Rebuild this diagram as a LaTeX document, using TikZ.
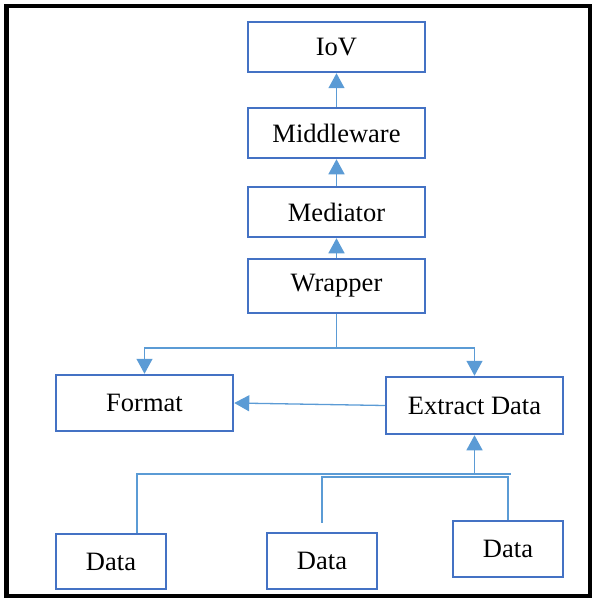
\documentclass[tikz,border=0pt]{standalone}
\usepackage{fontspec}
\setmainfont{Liberation Serif}
\usetikzlibrary{arrows.meta, positioning}
\definecolor{boxblue}{HTML}{4472C4}
\definecolor{linkblue}{HTML}{5B9BD5}

\begin{document}
\begin{tikzpicture}[
    x=1pt, y=-1pt,
    >={Triangle[width=16pt,length=15pt]},
    every node/.style={font=\fontsize{26.5}{30}\selectfont},
    box/.style={draw=boxblue, line width=2.5pt, inner sep=0pt,
                minimum width=177pt, minimum height=50pt},
    databox/.style={box, minimum width=110pt, minimum height=56pt},
    link/.style={draw=linkblue, line width=1.3pt},
]
\useasboundingbox (0,0) rectangle (592,599);
% outer frame
\draw[line width=4.5pt] (6.5,6) rectangle (590,596);
% upper chain
\node[box] (iov) at (336.5,47) {IoV};
\node[box] (middleware) at (336.5,133) {Middleware};
\node[box] (mediator) at (336.5,212) {Mediator};
\node[box, minimum height=54pt] (wrapper) at (336.5,286) {Wrapper};
\draw[link, ->] (middleware) -- (iov);
\draw[link, ->] (mediator) -- (middleware);
\draw[link, ->] (wrapper) -- (mediator);
% middle row
\node[box, minimum height=56pt] (format) at (144.5,403) {Format};
\node[box, minimum height=57pt] (extract) at (474.5,405.5) {Extract Data};
\coordinate (fork) at (336.5,348);
\draw[link] (wrapper) -- (fork);
\draw[link, ->] (fork) -| (format);
\draw[link, ->] (fork) -| (extract);
\draw[link, ->] (extract.west) -- (format.east);
% data sources
\node[databox, minimum height=55pt] (data1) at (111,561.5) {Data};
\node[databox] (data2) at (322,561) {Data};
\node[databox] (data3) at (508,549) {Data};
\coordinate (busL) at (137,474);
\coordinate (busR) at (511,474);
\coordinate (join) at (474.5,474);
\coordinate (bus2) at (508,477);
\draw[link] (data1.north -| busL) -- (busL) -- (busR);
\draw[link] ([yshift=9pt]data2.north) |- (bus2) -- (data3.north);
\draw[link, ->] (join) -- (extract);
\end{tikzpicture}
\end{document}
